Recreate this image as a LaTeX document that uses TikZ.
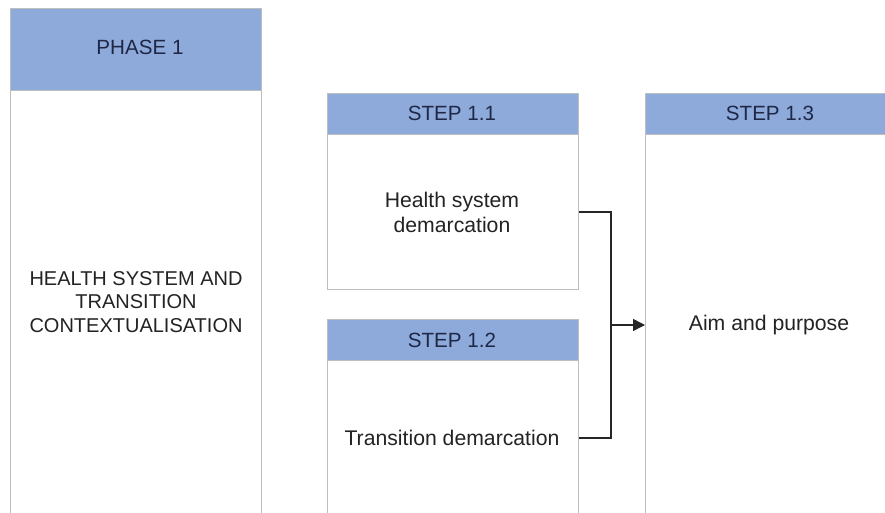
\documentclass[tikz,border=0pt]{standalone}
\usepackage{fontspec}
\setmainfont{Liberation Sans}
\usetikzlibrary{arrows.meta,calc}
\definecolor{headblue}{RGB}{142,170,219}
\definecolor{boxgray}{RGB}{190,190,190}
\definecolor{headtext}{RGB}{30,40,70}
\definecolor{bodytext}{RGB}{35,35,35}
\begin{document}
\begin{tikzpicture}[x=1bp,y=1bp,
  box/.style={draw=boxgray,line width=1.2bp,fill=white,inner sep=0pt,anchor=north west},
  head/.style={box,fill=headblue},
  headlabel/.style={text=headtext,font=\fontsize{20.6bp}{24bp}\selectfont},
  bodylabel/.style={text=bodytext,align=center,font=\fontsize{21.2bp}{25bp}\selectfont},
  link/.style={draw=black!85,line width=1.4bp},
  arrowlink/.style={link,-{Triangle[length=12bp,width=12bp]}}]
\useasboundingbox (0,0) rectangle (885,513);
\fill[white] (0,0) rectangle (885,513);
\clip (0,0) rectangle (885,513);

% Phase 1 column
\node[box,minimum width=251bp,minimum height=440bp] (b1) at (10,423) {};
\node[head,minimum width=251bp,minimum height=82bp] (h1) at (10,505) {};
\node[headlabel] (h1t) at (140,466) {PHASE 1};
\node[bodylabel,font=\fontsize{20bp}{23.5bp}\selectfont] (b1t) at (136,211)
  {HEALTH SYSTEM AND\\TRANSITION\\CONTEXTUALISATION};

% Step 1.1
\node[box,minimum width=251bp,minimum height=155bp] (b11) at (327,379) {};
\node[head,minimum width=251bp,minimum height=41bp] (h11) at (327,420) {};
\node[headlabel] (h11t) at (452,400) {STEP 1.1};
\node[bodylabel] (b11t) at (452,301) {Health system\\demarcation};

% Step 1.2
\node[box,minimum width=251bp,minimum height=170bp] (b12) at (327,153) {};
\node[head,minimum width=251bp,minimum height=41bp] (h12) at (327,194) {};
\node[headlabel] (h12t) at (452,173) {STEP 1.2};
\node[bodylabel] (b12t) at (452,75) {Transition demarcation};

% Step 1.3
\node[box,minimum width=260bp,minimum height=400bp] (b13) at (645,379) {};
\node[head,minimum width=260bp,minimum height=41bp] (h13) at (645,420) {};
\node[headlabel] (h13t) at (770,400) {STEP 1.3};
\node[bodylabel] (b13t) at (769,188) {Aim and purpose};

% Connectors joining steps 1.1 and 1.2 into step 1.3
\coordinate (join) at (611,188);
\coordinate (from12) at (b12.east |- b12t);
\draw[link] (b11.east) -| (join);
\draw[link] (from12) -| (join);
\draw[arrowlink] (join) -- (join -| b13.west);
\end{tikzpicture}
\end{document}
